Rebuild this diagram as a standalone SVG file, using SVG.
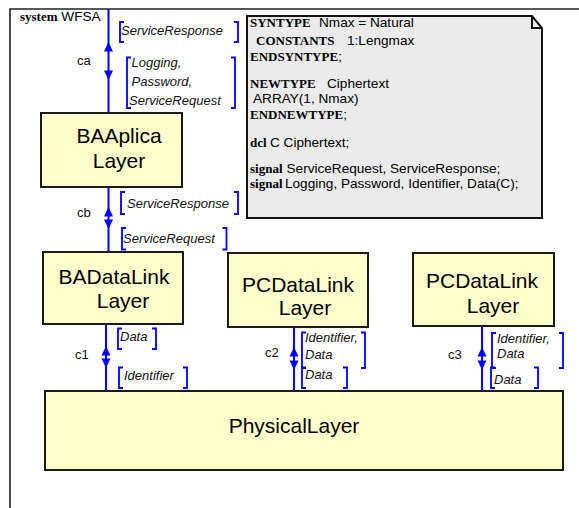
<svg xmlns="http://www.w3.org/2000/svg" xmlns:xlink="http://www.w3.org/1999/xlink" width="579" height="508" viewBox="0 0 579 508">
  <style>
    .frame { fill: none; stroke: #222; stroke-width: 1.6; }
    .block { fill: #ffffcc; stroke: #1a1a1a; stroke-width: 2; }
    .blockText { font-family: "Liberation Sans", Arial, sans-serif; font-size: 21px; fill: #000; text-anchor: middle; }
    .note { fill: #ebebeb; stroke: #111; stroke-width: 2; }
    .kw { font-family: "Liberation Serif", "Times New Roman", serif; font-weight: bold; font-size: 13px; fill: #000; }
    .nt { font-family: "Liberation Sans", Arial, sans-serif; font-size: 13.6px; fill: #000; }
    .chan { stroke: #0000ff; stroke-width: 2; fill: none; }
    .arrow { fill: #0000ff; stroke: none; }
    .bracket { stroke: #0000ff; stroke-width: 1.8; fill: none; }
    .sig { font-family: "Liberation Sans", Arial, sans-serif; font-style: italic; font-size: 13px; fill: #111; }
    .cname { font-family: "Liberation Sans", Arial, sans-serif; font-size: 13px; fill: #111; }
  </style>
  <defs>
    <path id="arrUp" class="arrow" d="M0,0 L4.5,9.5 L-4.5,9.5 Z"/>
    <path id="arrDown" class="arrow" d="M0,0 L4.5,-9.5 L-4.5,-9.5 Z"/>
  </defs>

  <rect width="579" height="508" fill="#ffffff"/>

  <!-- system frame -->
  <g id="system-frame">
    <path class="frame" d="M10,508 V9 H579"/>
    <text x="20" y="21"><tspan class="kw">system</tspan><tspan class="nt" font-size="13px"> WFSA</tspan></text>
  </g>

  <!-- declarations note -->
  <g id="declarations">
    <path class="note" d="M247,16 H532 L542,28 V218 H247 Z"/>
    <path fill="none" stroke="#111" stroke-width="2" d="M532,16 V28 H542"/>
    <text x="250" y="27"><tspan class="kw">SYNTYPE</tspan><tspan class="nt" x="319">Nmax = Natural</tspan></text>
    <text x="256" y="44.5"><tspan class="kw">CONSTANTS</tspan><tspan class="nt" x="347">1:Lengmax</tspan></text>
    <text x="250" y="61"><tspan class="kw">ENDSYNTYPE</tspan><tspan class="nt">;</tspan></text>
    <text x="250" y="88"><tspan class="kw">NEWTYPE</tspan><tspan class="nt" x="327">Ciphertext</tspan></text>
    <text class="nt" x="253" y="102.5">ARRAY(1, Nmax)</text>
    <text x="250" y="118.5"><tspan class="kw">ENDNEWTYPE</tspan><tspan class="nt">;</tspan></text>
    <text x="250" y="147"><tspan class="kw">dcl</tspan><tspan class="nt" x="270">C Ciphertext;</tspan></text>
    <text x="250" y="173"><tspan class="kw">signal</tspan><tspan class="nt" x="286.5">ServiceRequest, ServiceResponse;</tspan></text>
    <text x="250" y="188"><tspan class="kw">signal</tspan><tspan class="nt" x="285">Logging, Password, Identifier, Data(C);</tspan></text>
  </g>

  <!-- channels -->
  <g id="connectors">
    <!-- ca -->
    <line class="chan" x1="108.5" y1="9" x2="108.5" y2="113"/>
    <use xlink:href="#arrUp" x="108.5" y="42"/>
    <use xlink:href="#arrDown" x="108.5" y="80"/>
    <text class="cname" x="77" y="65">ca</text>
    <path class="bracket" d="M124,22 H120 V42 H124 M234,22 H238 V42 H234"/>
    <text class="sig" x="121" y="35">ServiceResponse</text>
    <path class="bracket" d="M131,57.5 H127 V108 H131 M231,57.5 H235 V108 H231"/>
    <text class="sig" x="131.5" y="67">Logging,</text>
    <text class="sig" x="131.5" y="86">Password,</text>
    <text class="sig" x="129" y="104.5">ServiceRequest</text>

    <!-- cb -->
    <line class="chan" x1="108.5" y1="187" x2="108.5" y2="252"/>
    <use xlink:href="#arrUp" x="108.5" y="207"/>
    <use xlink:href="#arrDown" x="108.5" y="229"/>
    <text class="cname" x="77" y="217">cb</text>
    <path class="bracket" d="M125,192 H121 V214 H125 M234,192 H238 V214 H234"/>
    <text class="sig" x="127" y="207.5">ServiceResponse</text>
    <path class="bracket" d="M126,228 H122 V249.5 H126 M222.5,228 H226.5 V249.5 H222.5"/>
    <text class="sig" x="123" y="243">ServiceRequest</text>

    <!-- c1 -->
    <line class="chan" x1="106" y1="324" x2="106" y2="391"/>
    <use xlink:href="#arrUp" x="106" y="346"/>
    <use xlink:href="#arrDown" x="106" y="368"/>
    <text class="cname" x="75" y="359">c1</text>
    <path class="bracket" d="M122,328.5 H118 V349 H122 M152,328.5 H156 V349 H152"/>
    <text class="sig" x="120" y="341">Data</text>
    <path class="bracket" d="M123,367.5 H119 V388 H123 M183,367.5 H187 V388 H183"/>
    <text class="sig" x="124" y="380">Identifier</text>

    <!-- c2 -->
    <line class="chan" x1="294" y1="327" x2="294" y2="391"/>
    <use xlink:href="#arrUp" x="294" y="347"/>
    <use xlink:href="#arrDown" x="294" y="370"/>
    <text class="cname" x="265" y="357">c2</text>
    <path class="bracket" d="M306,332.5 H302 V368 H306 M361,332.5 H365 V368 H361"/>
    <text class="sig" x="305" y="342">Identifier,</text>
    <text class="sig" x="305" y="359">Data</text>
    <path class="bracket" d="M306,367.5 H302 V388 H306 M343,367.5 H347 V388 H343"/>
    <text class="sig" x="305" y="379">Data</text>

    <!-- c3 -->
    <line class="chan" x1="482" y1="326" x2="482" y2="391"/>
    <use xlink:href="#arrUp" x="482" y="347"/>
    <use xlink:href="#arrDown" x="482" y="370"/>
    <text class="cname" x="448" y="359">c3</text>
    <path class="bracket" d="M496,333 H492 V368 H496 M559,333 H563 V368 H559"/>
    <text class="sig" x="497" y="343">Identifier,</text>
    <text class="sig" x="497" y="358">Data</text>
    <path class="bracket" d="M495,367.5 H491 V388 H495 M534,367.5 H538 V388 H534"/>
    <text class="sig" x="494" y="384">Data</text>
  </g>

  <!-- blocks -->
  <g id="BAAplicaLayer">
    <rect class="block" x="41" y="113" width="141" height="74"/>
    <text class="blockText" x="119" y="143">BAAplica</text>
    <text class="blockText" x="119" y="168">Layer</text>
  </g>

  <g id="BADataLinkLayer">
    <rect class="block" x="43" y="252" width="140" height="72"/>
    <text class="blockText" x="114" y="284">BADataLink</text>
    <text class="blockText" x="123" y="308">Layer</text>
  </g>

  <g id="PCDataLinkLayer1">
    <rect class="block" x="228" y="253" width="140" height="74"/>
    <text class="blockText" x="298" y="292">PCDataLink</text>
    <text class="blockText" x="305" y="315">Layer</text>
  </g>

  <g id="PCDataLinkLayer2">
    <rect class="block" x="413" y="253" width="141" height="73"/>
    <text class="blockText" x="482" y="288">PCDataLink</text>
    <text class="blockText" x="493" y="313">Layer</text>
  </g>

  <g id="PhysicalLayer">
    <rect class="block" x="45" y="391" width="518" height="79"/>
    <text class="blockText" x="294" y="433" font-size="24px">PhysicalLayer</text>
  </g>
</svg>
